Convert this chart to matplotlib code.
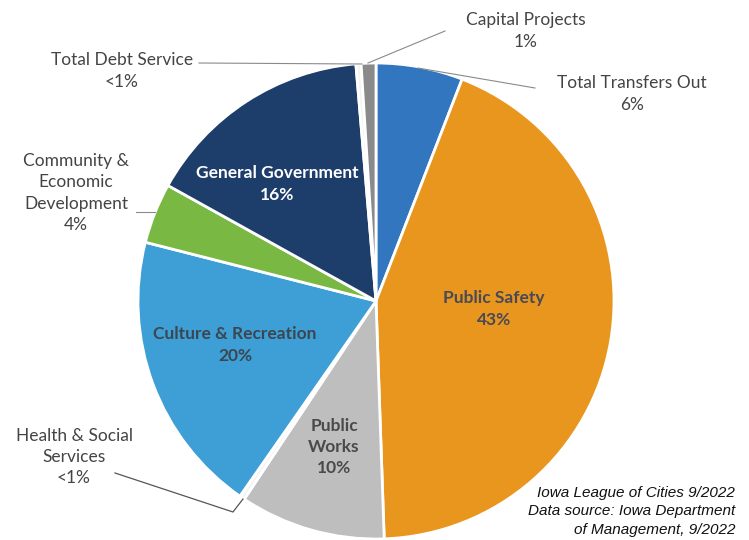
import numpy as np
import matplotlib
matplotlib.use('Agg')
import matplotlib.pyplot as plt

# slices clockwise from 12 o'clock
categories = ['Total Transfers Out', 'Public Safety', 'Public Works', 'Health & Social Services',
              'Culture & Recreation', 'Community & Economic Development', 'General Government',
              'Total Debt Service', 'Capital Projects']
shares = [5.9, 43.6, 9.9, 0.35, 19.3, 4.1, 15.6, 0.35, 1.0]
pct_labels = ['6%', '43%', '10%', '<1%', '20%', '4%', '16%', '<1%', '1%']
colors = ['#3276bf', '#e9961f', '#bebebe', '#f4f4f4', '#3d9fd6', '#79b943', '#1d3d6b', '#f4f4f4', '#8a8a8a']

W, H = 749, 540
fig = plt.figure(figsize=(W / 100, H / 100), dpi=100)
ax = fig.add_axes([0, 0, 1, 1])

cx, cy, r = 376, H - 301, 238
ax.pie(shares, colors=colors, startangle=90, counterclock=False, center=(cx, cy), radius=r,
       wedgeprops=dict(edgecolor='white', linewidth=2), frame=True)
ax.set_xlim(0, W)
ax.set_ylim(0, H)
ax.set_aspect('equal')
ax.axis('off')

font = 'Lato'
grey = '#444444'

def T(x, y, s, **kw):
    kw.setdefault('color', grey)
    kw.setdefault('fontsize', 12.5)
    ax.text(x, H - y, s, ha='center', va='center', family=font, linespacing=1.4, **kw)

# inside labels
T(277, 184, 'General Government\n16%', color='white', fontweight='bold')
T(494, 309, 'Public Safety\n' + pct_labels[1], fontweight='bold', color='#4a4a55')
T(235, 345, 'Culture & Recreation\n' + pct_labels[4], fontweight='bold', color='#3c4650')
T(334, 447, 'Public\nWorks\n' + pct_labels[2], fontweight='bold', color='#4a4a4a')

# outside labels with leader lines
T(526, 31, 'Capital Projects\n' + pct_labels[8])
T(632, 94, 'Total Transfers Out\n' + pct_labels[0])
T(122, 71, 'Total Debt Service\n' + pct_labels[7])
T(76, 193, 'Community &\nEconomic\nDevelopment\n' + pct_labels[5])
T(74, 457, 'Health & Social\nServices\n' + pct_labels[3])

lc = '#8a8a8a'
ax.plot([445, 368], [H - 31, H - 63], color=lc, lw=0.8)
ax.plot([535, 418], [H - 88, H - 68], color=lc, lw=0.8)
ax.plot([199, 362], [H - 63, H - 64], color=lc, lw=0.8)
ax.plot([136, 155], [H - 212, H - 212], color=lc, lw=0.8)
ax.plot([115, 233, 243], [H - 473, H - 512, H - 499], color='#555555', lw=0.9)

# source note
for i, s in enumerate(['Iowa League of Cities 9/2022', 'Data source: Iowa Department',
                       'of Management, 9/2022']):
    ax.text(735, H - (493 + 18.5 * i), s, ha='right', va='center', family='Liberation Sans',
            style='italic', fontsize=11, color='#111111')

fig.savefig('out.png', dpi=100)
